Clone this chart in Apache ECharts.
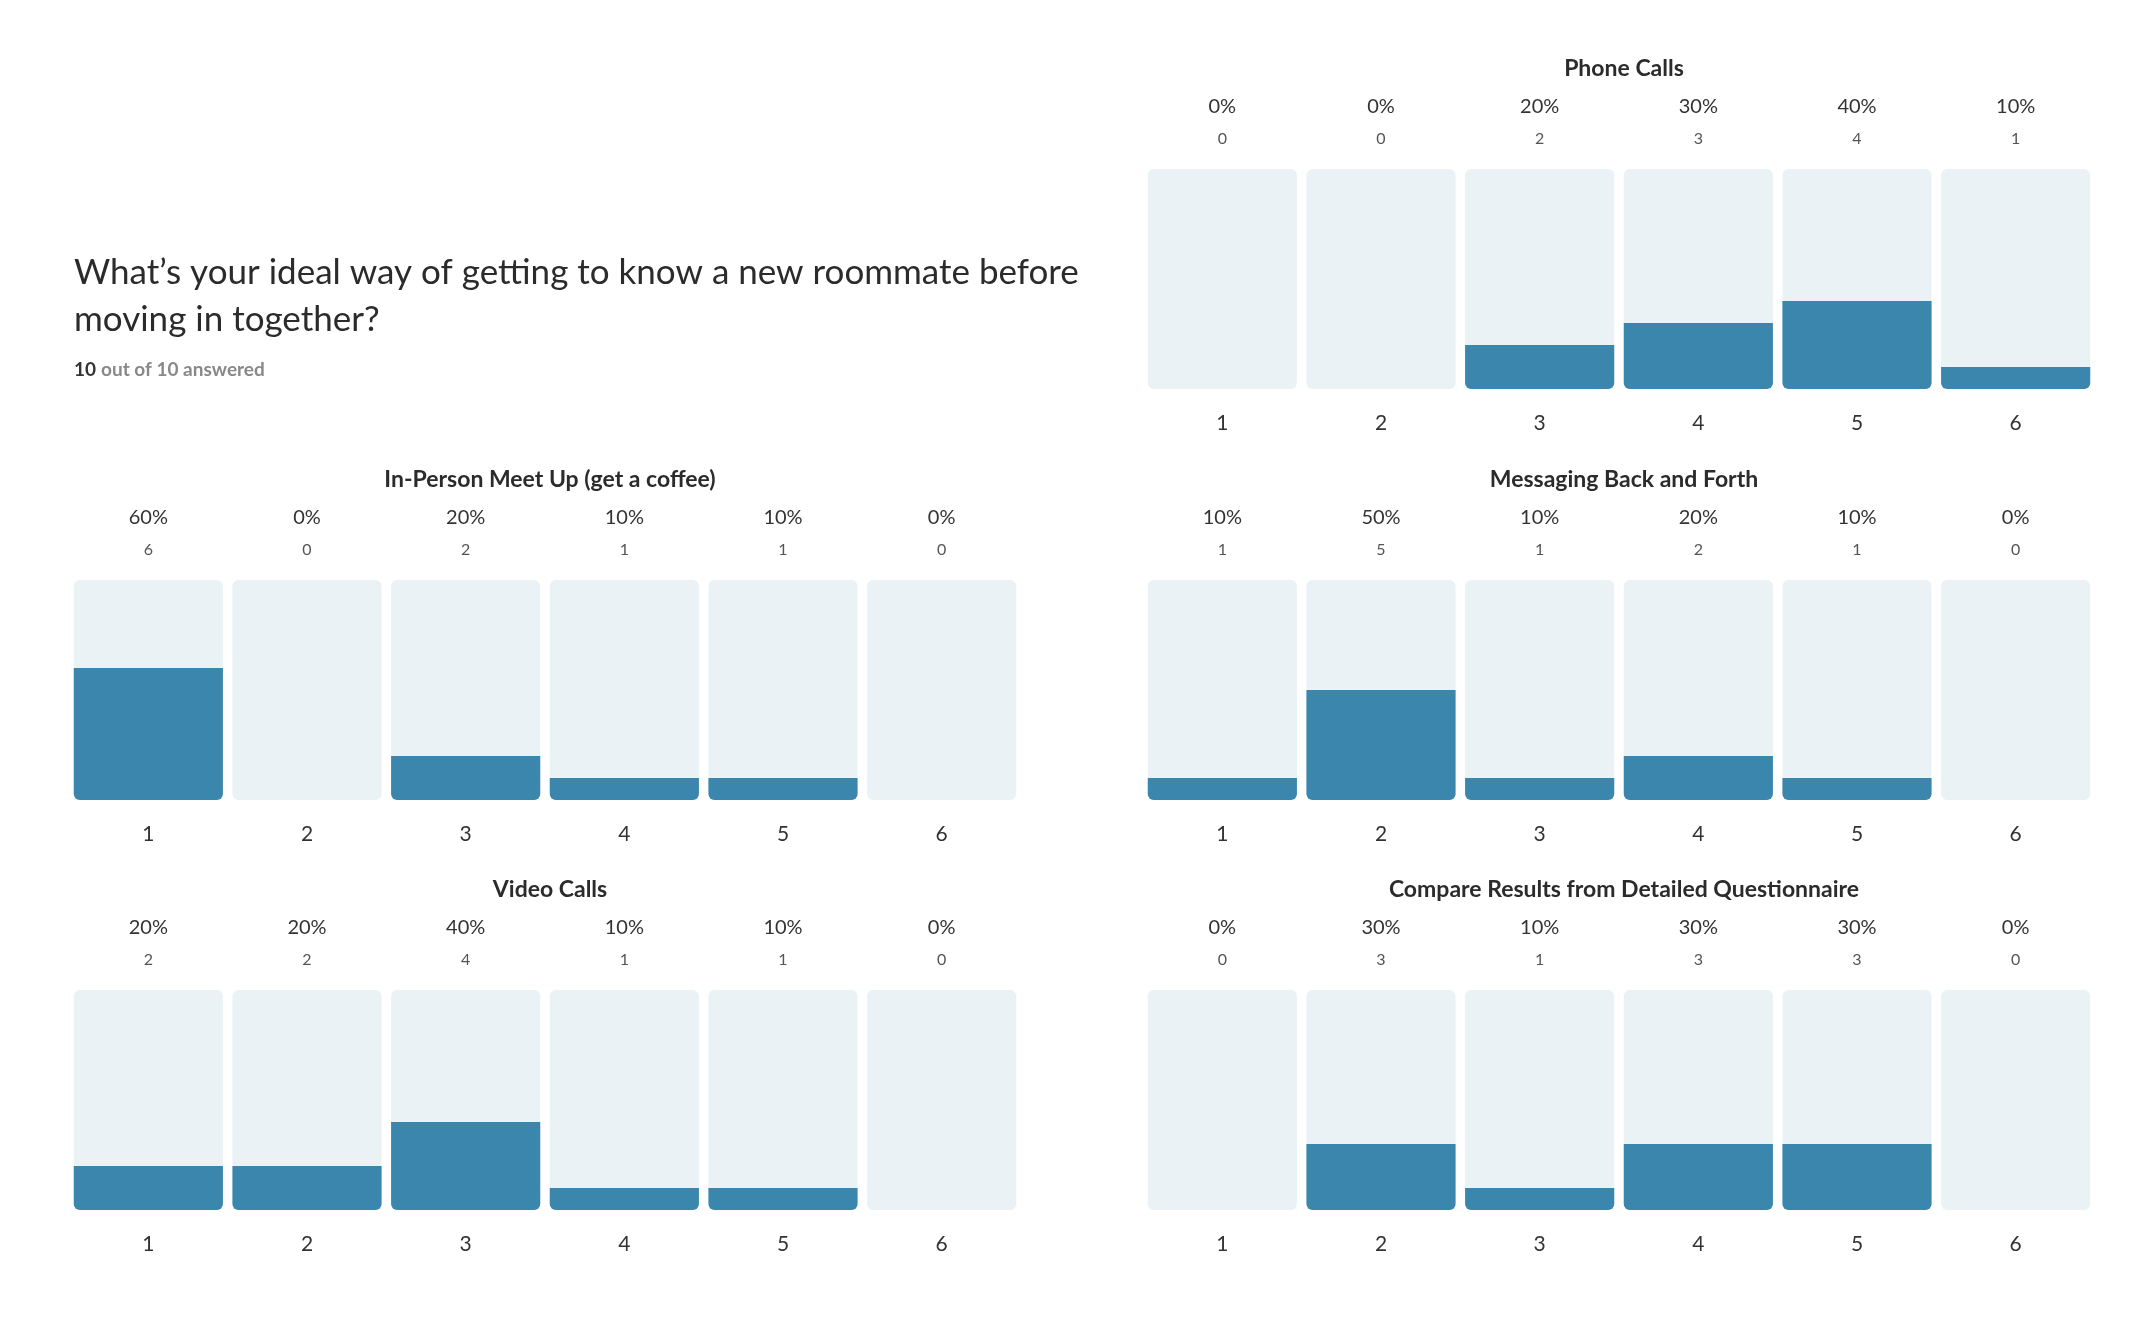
<!DOCTYPE html>
<html>
<head>
<meta charset="utf-8">
<script src="https://cdn.jsdelivr.net/npm/echarts@6/dist/echarts.min.js"></script>
<style>html,body{margin:0;padding:0;background:#fff}#chart{width:2146px;height:1342px}</style>
</head>
<body>
<div id="chart"></div>
<script>
var categories = ['1', '2', '3', '4', '5', '6'];
var panelTitles = ['Phone Calls', 'In-Person Meet Up (get a coffee)', 'Messaging Back and Forth', 'Video Calls', 'Compare Results from Detailed Questionnaire'];
var counts = [
    [0, 0, 2, 3, 4, 1],
    [6, 0, 2, 1, 1, 0],
    [1, 5, 1, 2, 1, 0],
    [2, 2, 4, 1, 1, 0],
    [0, 3, 1, 3, 3, 0]
];
var totalAnswered = 10;
var panelPos = [[1143, 169], [69, 580], [1143, 580], [69, 990], [1143, 990]];

var font = 'Lato';
var dom = document.getElementById('chart');
var myChart = echarts.init(dom);
var grids = [], xAxes = [], yAxes = [], series = [];
var titles = [
    {
        text: 'What\u2019s your ideal way of getting to know a new roommate before\nmoving in together?',
        left: 69, top: 244,
        textStyle: {fontFamily: font, fontSize: 35, fontWeight: 'normal', color: '#2b2b2b', lineHeight: 47}
    },
    {
        text: '{a|' + totalAnswered + '} {b|out of ' + totalAnswered + ' answered}',
        left: 69, top: 355,
        textStyle: {rich: {
            a: {fontFamily: font, fontSize: 19, color: '#333'},
            b: {fontFamily: font, fontSize: 19, color: '#888'}
        }}
    }
];

for (var i = 0; i < counts.length; i++) {
    var x = panelPos[i][0], y = panelPos[i][1];
    grids.push({left: x, top: y, width: 952, height: 220});
    titles.push({
        text: panelTitles[i], left: x + 476, top: y - 117, textAlign: 'center',
        textStyle: {fontFamily: font, fontSize: 23, fontWeight: 'bold', color: '#2b2b2b'}
    });
    var data = counts[i];
    xAxes.push({
        type: 'category', gridIndex: i, data: categories, position: 'bottom',
        axisLine: {show: false}, axisTick: {show: false},
        axisLabel: {margin: 24, fontFamily: font, fontSize: 21, color: '#333'}
    });
    xAxes.push({
        type: 'category', gridIndex: i, data: categories, position: 'top',
        axisLine: {show: false}, axisTick: {show: false},
        axisLabel: {
            margin: 20,
            formatter: (function (d) {
                return function (v, idx) {
                    return '{p|' + Math.round(d[idx] / totalAnswered * 100) + '%}\n{c|' + d[idx] + '}';
                };
            })(data),
            rich: {
                p: {fontFamily: font, fontSize: 20, color: '#333', lineHeight: 45},
                c: {fontFamily: font, fontSize: 16, color: '#555', lineHeight: 20}
            }
        }
    });
    yAxes.push({type: 'value', gridIndex: i, min: 0, max: totalAnswered, show: false});
    series.push({
        type: 'bar', xAxisIndex: i * 2, yAxisIndex: i, barCategoryGap: '6%', silent: true,
        data: categories.map(function () { return totalAnswered; }),
        itemStyle: {color: '#eaf2f6', borderRadius: 6}
    });
    series.push({
        type: 'bar', xAxisIndex: i * 2, yAxisIndex: i, barCategoryGap: '6%', barGap: '-100%',
        data: data,
        itemStyle: {color: '#3a86ad', borderRadius: [0, 0, 6, 6]}
    });
}

var option = {
    animation: false,
    title: titles,
    grid: grids,
    xAxis: xAxes,
    yAxis: yAxes,
    series: series
};
myChart.setOption(option, true);
</script>
</body>
</html>
